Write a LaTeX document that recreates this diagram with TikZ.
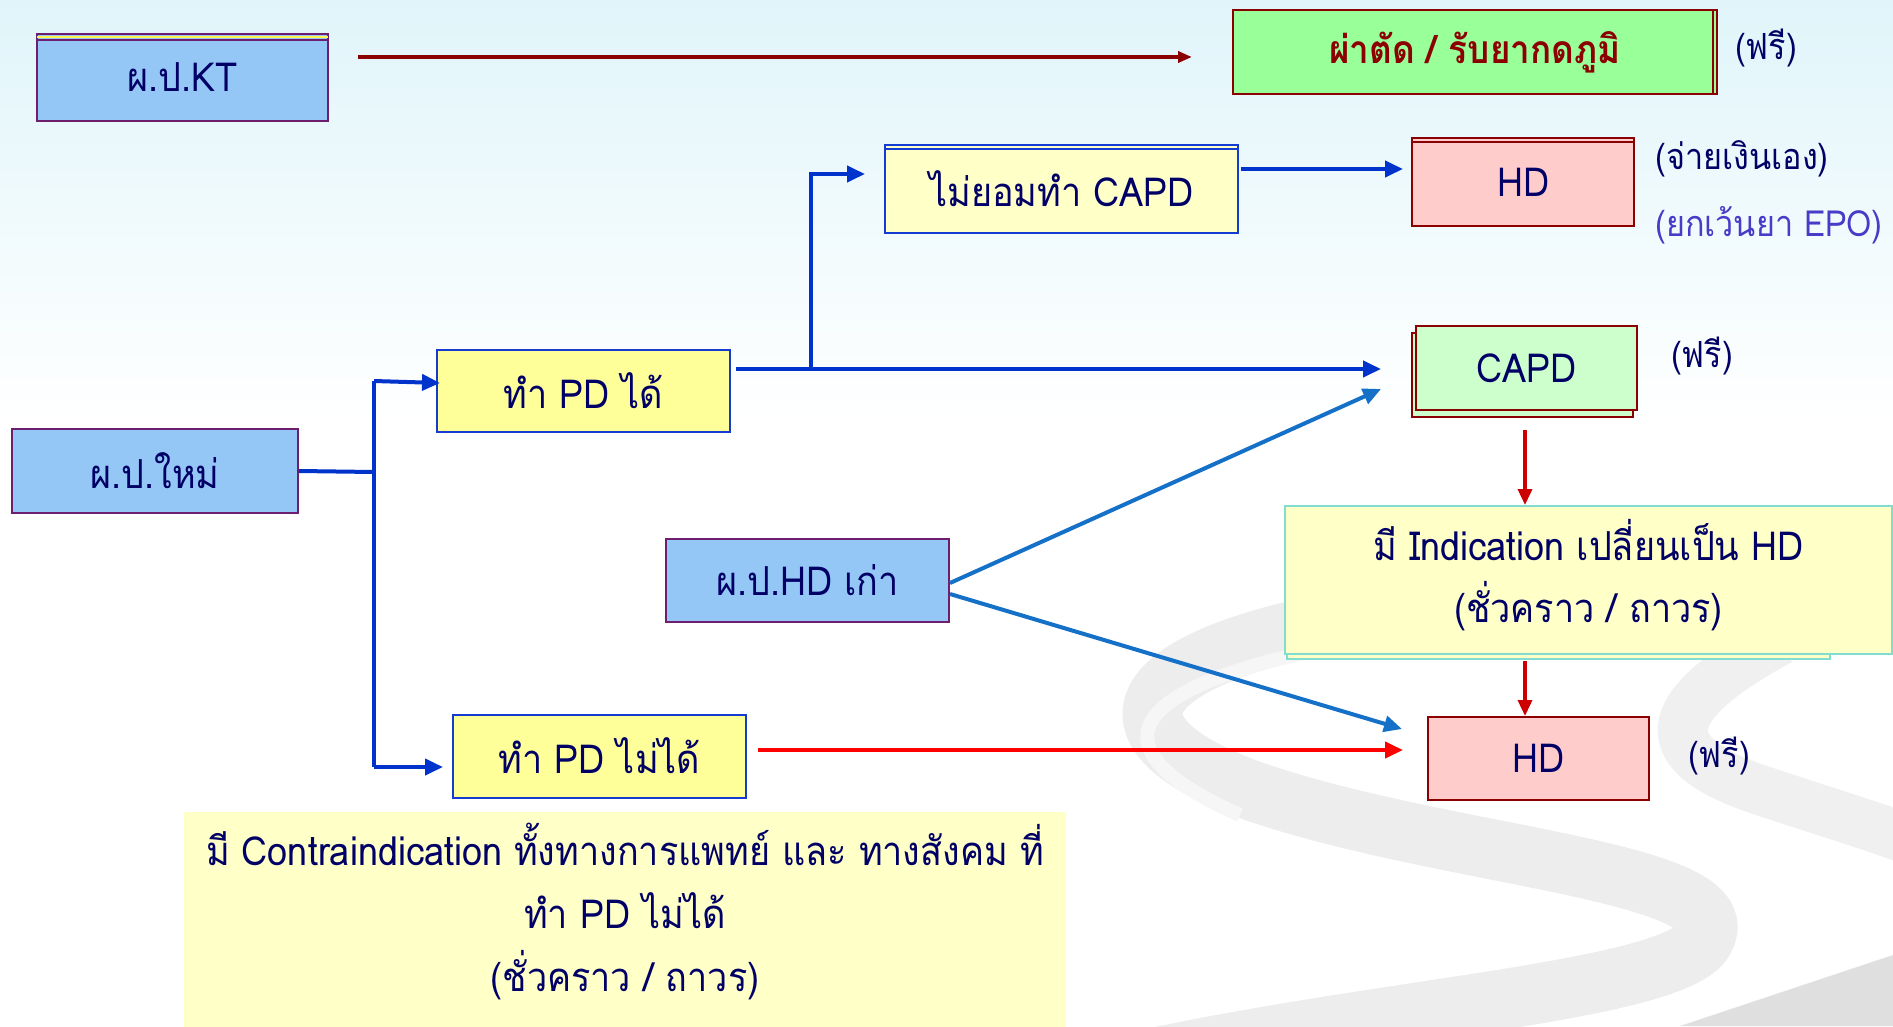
\documentclass[tikz,border=0pt]{standalone}
\usepackage{fontspec}
\setmainfont[Script=Thai, FakeStretch=0.9]{Loma}
\usetikzlibrary{arrows.meta,calc}
\definecolor{navy}{RGB}{0,0,102}
\definecolor{bluefill}{RGB}{148,198,246}
\definecolor{purpleb}{RGB}{110,30,110}
\definecolor{yellowf}{RGB}{255,255,153}
\definecolor{paleyellow}{RGB}{255,255,200}
\definecolor{blueb}{RGB}{20,60,210}
\definecolor{greenf}{RGB}{153,255,153}
\definecolor{darkred}{RGB}{139,0,0}
\definecolor{pinkf}{RGB}{255,204,204}
\definecolor{capdf}{RGB}{204,255,204}
\definecolor{tealb}{RGB}{128,221,208}
\definecolor{arrblue}{RGB}{0,51,204}
\definecolor{arrlblue}{RGB}{21,112,200}
\definecolor{arrred}{RGB}{204,0,0}
\definecolor{brightred}{RGB}{255,0,0}
\definecolor{epoc}{RGB}{70,60,200}
\definecolor{skytop}{RGB}{224,245,250}
\begin{document}
\begin{tikzpicture}[x=1pt,y=-1pt,
  txt/.style={font=\fontsize{40}{47}\selectfont, text=navy},
  box/.style={txt, draw, line width=2pt, inner sep=0pt, align=center},
  bluebox/.style={box, fill=bluefill, draw=purpleb},
  yelbox/.style={box, fill=yellowf, draw=blueb},
  pinkbox/.style={box, fill=pinkf, draw=darkred},
  lbl/.style={font=\fontsize{36}{43}\selectfont, text=navy, inner sep=0pt},
  arr/.style={line width=4pt, -{Triangle[length=18pt,width=16pt]}},
  seg/.style={line width=4pt},
]
% background
\useasboundingbox (0,0) rectangle (1893,1026);
\fill[white] (0,0) rectangle (1893,1026);
\shade[top color=skytop, bottom color=white] (0,0) rectangle (1893,420);
% swooshes
\draw[line width=60pt, gray!14, line cap=round] (1500,600) .. controls (1150,630) and (1060,720) .. (1250,790) .. controls (1450,860) and (1760,870) .. (1700,945) .. controls (1650,995) and (1350,1010) .. (1100,1070);
\draw[line width=14pt, gray!7] (1450,628) .. controls (1130,670) and (1070,740) .. (1240,815);
\draw[line width=50pt, gray!12] (1780,640) .. controls (1670,700) and (1640,750) .. (1760,790) .. controls (1820,810) and (1870,825) .. (1910,840);
\fill[gray!25] (1680,1026) -- (1893,955) -- (1893,1026) -- cycle;

% nodes
\node[bluebox, minimum width=291pt, minimum height=87pt] (kt) at (182.5,77.5) {ผ.ป.KT};
\draw[yellow!70, line width=2pt] ($(kt.north west)+(1,4)$) -- ($(kt.north east)+(-1,4)$);
\draw[purpleb, line width=1.5pt] ($(kt.north west)+(0,7)$) -- ($(kt.north east)+(0,7)$);

\node[box, fill=greenf, draw=darkred, text=darkred, font=\fontsize{39}{47}\selectfont\bfseries, minimum width=484pt, minimum height=84pt] (surg) at (1475,52) {ผ่าตัด / รับยากดภูมิ};
\draw[darkred, line width=1.5pt] ($(surg.north east)+(-5,1)$) -- ($(surg.south east)+(-5,-1)$);
\node[lbl] (free1) at (1766,48) {(ฟรี)};

\node[box, fill=paleyellow, draw=blueb, minimum width=353pt, minimum height=88pt] (nocapd) at (1061.5,189) {ไม่ยอมทำ CAPD};
\draw[blueb, line width=1.5pt] ($(nocapd.north west)+(0,5)$) -- ($(nocapd.north east)+(0,5)$);

\node[pinkbox, minimum width=222pt, minimum height=88pt] (hd1) at (1523,182) {HD};
\draw[darkred, line width=1.5pt] ($(hd1.north west)+(0,5)$) -- ($(hd1.north east)+(0,5)$);
\node[lbl] (pay) at (1742,159) {(จ่ายเงินเอง)};
\node[lbl, text=epoc] (epo) at (1769,225) {(ยกเว้นยา EPO)};

\node[yelbox, minimum width=293pt, minimum height=82pt] (pdok) at (583.5,391) {ทำ PD ได้};

\fill[capdf, draw=darkred, line width=2pt] (1412,333) rectangle (1633,417);
\node[box, fill=capdf, draw=darkred, minimum width=221pt, minimum height=84pt] (capd) at (1526.5,368) {CAPD};
\node[lbl] (free2) at (1702,356) {(ฟรี)};

\node[bluebox, minimum width=286pt, minimum height=84pt] (new) at (155,471) {ผ.ป.ใหม่};
\node[bluebox, minimum width=283pt, minimum height=83pt] (oldhd) at (807.5,580) {ผ.ป.HD เก่า};

\draw[tealb, line width=2pt, fill=paleyellow] (1287,510) rectangle (1830,659);
\node[box, fill=paleyellow, draw=tealb, minimum width=607pt, minimum height=148pt] (ind) at (1588.5,580) {};
\node[txt, align=center, inner sep=0pt] (indtxt) at (1588.5,575) {มี Indication เปลี่ยนเป็น HD\\[15pt](ชั่วคราว / ถาวร)};

\node[pinkbox, minimum width=221pt, minimum height=83pt] (hd2) at (1538.5,758.5) {HD};
\node[lbl] (free3) at (1719,756) {(ฟรี)};

\node[yelbox, minimum width=293pt, minimum height=83pt] (pdno) at (599.5,756) {ทำ PD ไม่ได้};

\fill[paleyellow] (184,812) rectangle (1066,1030);
\node[txt, inner sep=0pt, align=center] (note) at (625,912) {มี Contraindication ทั้งทางการแพทย์ และ ทางสังคม ที่\\[16pt]ทำ PD ไม่ได้\\[16pt](ชั่วคราว / ถาวร)};

% connectors
\coordinate (ktS) at ($(kt.east)+(29,-20.5)$);
\coordinate (ktE) at ($(surg.west)+(-40,5)$);
\draw[darkred, line width=4pt, -{Triangle[length=14pt,width=11pt]}] (ktS) -- (ktE);

\draw[arrblue, arr] ($(nocapd.east)+(2,-20)$) -- ($(hd1.west)+(-8,-13)$);

\coordinate (okS) at ($(pdok.east)+(5,-22)$);
\coordinate (okBr) at (811,369);
\coordinate (okUp) at (811,174);
\draw[arrblue, seg] (okS) -- (okBr);
\draw[arrblue, arr] (okBr) -- ($(capd.west)+(-34,1)$);
\draw[arrblue, arr] (okBr) -- (okUp) -- ($(nocapd.west)+(-19,-15)$);

\coordinate (nsp) at (374,472);
\coordinate (ntop) at (374,381);
\coordinate (nbot) at (374,767);
\draw[arrblue, seg] (new.east) -- (nsp);
\draw[arrblue, seg] (ntop) -- (nbot);
\draw[arrblue, arr] (ntop) -- ($(pdok.west)+(4,-8)$);
\draw[arrblue, arr] (nbot) -- ($(pdno.west)+(-9,11)$);

\draw[arrlblue, arr] ($(oldhd.east)+(0,3)$) -- ($(capd.west)+(-34,21)$);
\draw[arrlblue, arr] ($(oldhd.east)+(0,14)$) -- ($(hd2.west)+(-25,-29.5)$);

\draw[arrred, line width=3.5pt, -{Triangle[length=16pt,width=14pt]}] (1525,430) -- (ind.north -| 1525,0);
\draw[arrred, line width=3.5pt, -{Triangle[length=16pt,width=14pt]}] (1525,661) -- (hd2.north -| 1525,0);

\draw[brightred, arr] ($(pdno.east)+(11,-6)$) -- ($(hd2.west)+(-24,-8.5)$);
\end{tikzpicture}
\end{document}
